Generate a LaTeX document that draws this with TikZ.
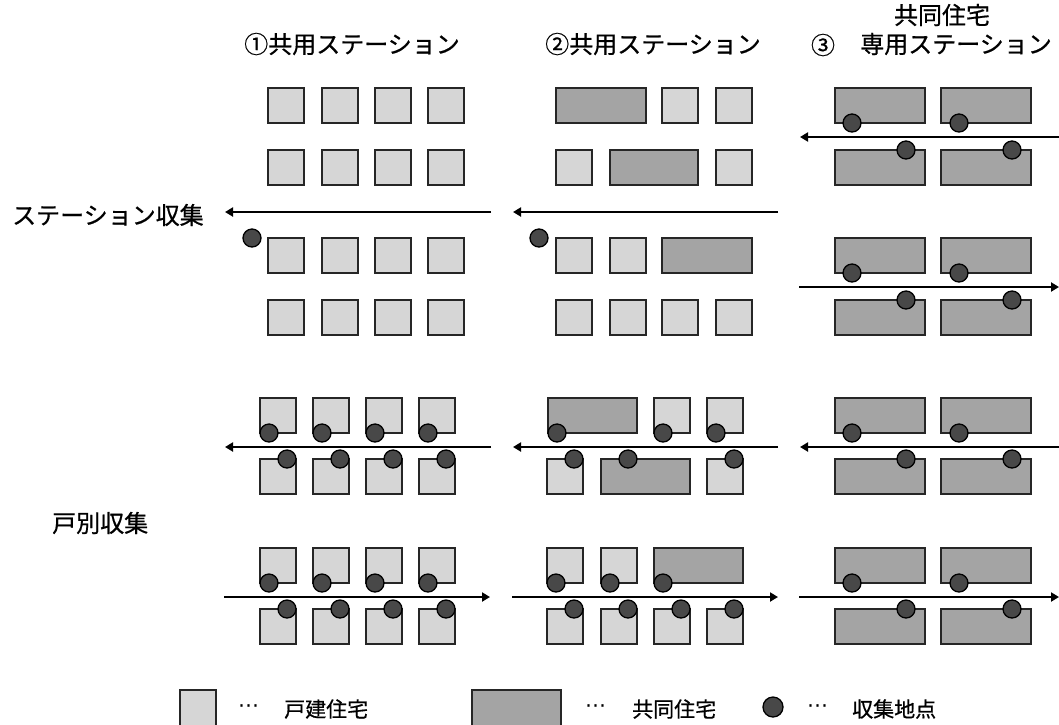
\documentclass[tikz,border=0pt]{standalone}
\usepackage{fontspec}
\newfontfamily\jp[FakeBold=0.6]{Noto Sans CJK JP}
\newfontfamily\dv{DejaVu Sans}
\usetikzlibrary{arrows.meta}
\definecolor{hcol}{HTML}{D6D6D6}
\definecolor{acol}{HTML}{A4A4A4}
\definecolor{scol}{HTML}{484848}
\newcommand{\House}[2]{\draw[house] (#1,#2) rectangle ++(36,35);}
\newcommand{\Apt}[3]{\draw[apt] (#1,#2) rectangle ++(#3,35);}
\newcommand{\Spot}[2]{\draw[spot] (#1,#2) circle[radius=9pt];}
\begin{document}
\begin{tikzpicture}[x=1pt,y=-1pt,
  house/.style={draw=black!85,line width=1.5pt,fill=hcol},
  apt/.style={draw=black!85,line width=1.5pt,fill=acol},
  spot/.style={draw=black,line width=1.3pt,fill=scol},
  route/.style={line width=2.2pt,-{Triangle[length=8pt,width=9pt]}},
  lbl/.style={font=\jp\fontsize{24}{28}\selectfont,inner sep=0pt},
  leg/.style={font=\jp\fontsize{21}{25}\selectfont,inner sep=0pt,anchor=west}]
\useasboundingbox (0,0) rectangle (1059,724);
\fill[white] (0,0) rectangle (1059,724);

% headers
\node[lbl] (h1) at (352,44) {①共用ステーション};
\node[lbl] (h2) at (653,44) {②共用ステーション};
\node[lbl] (h3) at (823,45) {③};
\node[lbl] (h3a) at (942,15) {共同住宅};
\node[lbl] (h3b) at (956,44) {専用ステーション};
\node[lbl,anchor=west] (lstation) at (12,215) {ステーション収集};
\node[lbl,anchor=west] (ldoor) at (52,523) {戸別収集};

% ---------- station collection ----------
% column 1
\foreach \y in {88,150,238,300} {\foreach \x in {268,322,375,428} {\House{\x}{\y}}}
\Spot{252}{238}
% column 2
\Apt{556}{88}{90}\House{662}{88}\House{716}{88}
\House{556}{150}\Apt{610}{150}{88}\House{716}{150}
\House{556}{238}\House{610}{238}\Apt{662}{238}{90}
\foreach \x in {556,610,662,716} {\House{\x}{300}}
\Spot{539}{238}
% column 3
\foreach \y in {88,150,238,300} {\Apt{835}{\y}{90}\Apt{941}{\y}{90}}
\Spot{852}{123}\Spot{959}{123}\Spot{906}{150}\Spot{1012}{150}
\Spot{852}{273}\Spot{959}{273}\Spot{906}{300}\Spot{1012}{300}

\coordinate (sa1) at (491,212); \coordinate (sb1) at (225,212);
\coordinate (sa2) at (778,212); \coordinate (sb2) at (513,212);
\coordinate (sa3) at (1059,137); \coordinate (sb3) at (800,137);
\coordinate (sa4) at (799,287); \coordinate (sb4) at (1059,287);
\draw[route] (sa1) -- (sb1);
\draw[route] (sa2) -- (sb2);
\draw[route] (sa3) -- (sb3);
\draw[route] (sa4) -- (sb4);

% ---------- door-to-door collection ----------
% column 1
\foreach \y in {398,459,548,609} {\foreach \x in {260,313,366,419} {\House{\x}{\y}}}
\foreach \x in {269,322,375,428} {\Spot{\x}{433}\Spot{\x}{583}}
\foreach \x in {287,340,393,446} {\Spot{\x}{459}\Spot{\x}{609}}
% column 2
\Apt{548}{398}{89}\House{654}{398}\House{707}{398}
\House{547}{459}\Apt{601}{459}{89}\House{707}{459}
\House{547}{548}\House{601}{548}\Apt{654}{548}{89}
\foreach \x in {547,601,654,707} {\House{\x}{609}}
\Spot{557}{433}\Spot{663}{433}\Spot{716}{433}
\Spot{574}{459}\Spot{628}{459}\Spot{734}{459}
\Spot{556}{583}\Spot{610}{583}\Spot{663}{583}
\Spot{574}{609}\Spot{628}{609}\Spot{681}{609}\Spot{734}{609}
% column 3
\foreach \y in {398,459,548,609} {\Apt{835}{\y}{90}\Apt{941}{\y}{90}}
\Spot{852}{433}\Spot{959}{433}\Spot{906}{459}\Spot{1012}{459}
\Spot{852}{583}\Spot{959}{583}\Spot{906}{609}\Spot{1012}{609}

\coordinate (da1) at (491,447); \coordinate (db1) at (225,447);
\coordinate (da2) at (778,447); \coordinate (db2) at (513,447);
\coordinate (da3) at (1059,447); \coordinate (db3) at (800,447);
\coordinate (da4) at (224,597); \coordinate (db4) at (490,597);
\coordinate (da5) at (512,597); \coordinate (db5) at (778,597);
\coordinate (da6) at (799,597); \coordinate (db6) at (1059,597);
\draw[route] (da1) -- (db1);
\draw[route] (da2) -- (db2);
\draw[route] (da3) -- (db3);
\draw[route] (da4) -- (db4);
\draw[route] (da5) -- (db5);
\draw[route] (da6) -- (db6);

% ---------- legend ----------
\draw[house] (180,690) rectangle (216,726);
\node[leg,font=\dv\fontsize{21}{25}\selectfont] (e1) at (238,709) {⋯};
\node[leg] (t1) at (284,709) {戸建住宅};
\draw[apt] (472,690) rectangle (561,726);
\node[leg,font=\dv\fontsize{21}{25}\selectfont] (e2) at (585,709) {⋯};
\node[leg] (t2) at (632,709) {共同住宅};
\draw[spot] (773,707) circle[radius=10pt];
\node[leg,font=\dv\fontsize{21}{25}\selectfont] (e3) at (807,709) {⋯};
\node[leg] (t3) at (852,709) {収集地点};
\end{tikzpicture}
\end{document}
